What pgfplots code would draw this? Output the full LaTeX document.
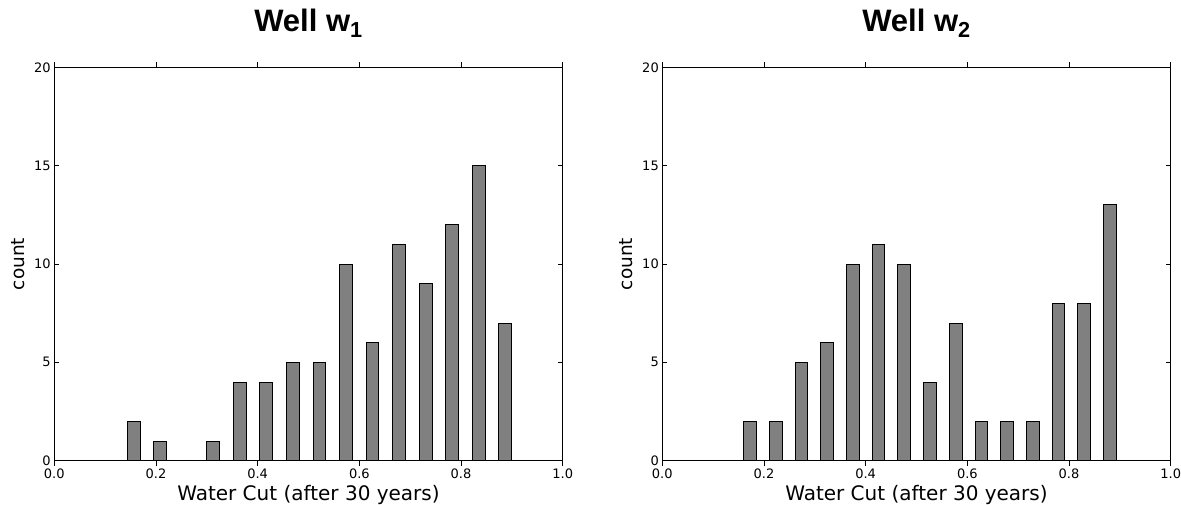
\documentclass[border=0pt]{standalone}
\usepackage{fontspec}
\setmainfont{DejaVu Sans}
\newfontfamily\titlefont{Liberation Sans}
\usepackage{pgfplots}
\pgfplotsset{compat=1.18}
\definecolor{barfill}{gray}{0.5}

\pgfplotstableread{
x y
0.1564 2
0.2086 1
0.2607 0
0.3129 1
0.3651 4
0.4172 4
0.4694 5
0.5216 5
0.5738 10
0.6259 6
0.6781 11
0.7303 9
0.7824 12
0.8346 15
0.8868 7
}\wellone

\pgfplotstableread{
x y
0.1725 2
0.2231 2
0.2737 5
0.3242 6
0.3748 10
0.4254 11
0.4760 10
0.5266 4
0.5771 7
0.6277 2
0.6783 2
0.7289 2
0.7795 8
0.8300 8
0.8806 13
}\welltwo

\pgfplotsset{
  histstyle/.style={
    scale only axis,
    width=508.4pt, height=393.4pt,
    anchor=south west,
    xmin=0, xmax=1, ymin=0, ymax=20,
    xtick={0,0.2,0.4,0.6,0.8,1.0},
    ytick={0,5,10,15,20},
    minor tick num=0,
    tick align=inside,
    major tick length=5pt,
    tick style={black, line width=0.6pt},
    axis line style={black, line width=0.9pt},
    /pgf/number format/assume math mode=true,
    xticklabel style={/pgf/number format/fixed, /pgf/number format/fixed zerofill, /pgf/number format/precision=1},
    tick label style={font=\fontsize{13}{15}\selectfont},
    xlabel={Water Cut (after 30 years)},
    ylabel={count},
    xlabel style={font=\fontsize{20}{24}\selectfont, at={(axis description cs:0.5,0)}, anchor=base, yshift=-39.3pt},
    every axis y label/.style={at={(axis description cs:0,0.5)}, xshift=-29.4pt, rotate=90, anchor=base, font=\fontsize{18.5}{22}\selectfont},
    title style={font=\titlefont\bfseries\fontsize{31}{36}\selectfont, at={(axis description cs:0.5,1)}, anchor=base, yshift=30pt},
    ybar, bar shift=0pt,
    clip=false,
  },
  barstyle/.style={fill=barfill, draw=black, line width=1pt},
}

\begin{document}
\begin{tikzpicture}
\path[use as bounding box] (0,0) rectangle (1181pt,504pt);
\begin{axis}[histstyle, at={(54.3pt,43.3pt)}, bar width=0.0255,
  title={Well w\textsubscript{1}}]
\addplot[barstyle] table[x=x,y=y] {\wellone};
\end{axis}
\begin{axis}[histstyle, at={(662.3pt,43.3pt)}, bar width=0.025,
  title={Well w\textsubscript{2}}]
\addplot[barstyle] table[x=x,y=y] {\welltwo};
\end{axis}
\end{tikzpicture}
\end{document}
